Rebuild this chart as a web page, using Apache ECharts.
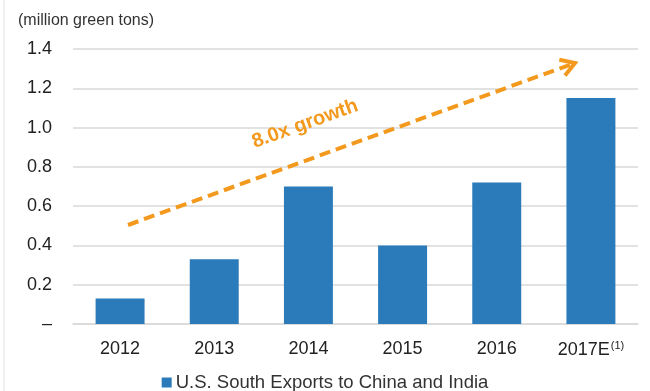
<!DOCTYPE html>
<html><head><meta charset="utf-8">
<script src="https://cdn.jsdelivr.net/npm/echarts@6/dist/echarts.min.js"></script>
<style>html,body{margin:0;padding:0;background:#fff}#c{width:650px;height:391px}</style>
</head><body><div id="c"></div>
<script>
const categories = ['2012','2013','2014','2015','2016','2017E'];
const exportsValues = [0.13, 0.33, 0.70, 0.40, 0.72, 1.15];
const yTicks = [0, 0.2, 0.4, 0.6, 0.8, 1.0, 1.2, 1.4];
const seriesName = 'U.S. South Exports to China and India';
const unitLabel = '(million green tons)';
const annotationText = '8.0x growth';

const chart = echarts.init(document.getElementById('c'));
const font = 'Liberation Sans, Arial, sans-serif';
chart.setOption({
  animation: false,
  textStyle: { fontFamily: font },
  grid: { left: 73, right: 12, top: 49, bottom: 67 },
  title: { text: unitLabel, left: 13, top: 8, textStyle: { fontSize: 16, fontWeight: 'normal', color: '#333', fontFamily: font } },
  legend: {
    top: 368, left: 'center', itemWidth: 10, itemHeight: 10, icon: 'rect', itemGap: 4,
    textStyle: { fontSize: 18.5, color: '#333', fontFamily: font, padding: [0,0,0,-1] },
    data: [seriesName]
  },
  xAxis: {
    type: 'category', data: categories,
    axisLine: { lineStyle: { color: '#d9d9d9', width: 1.5 } },
    axisTick: { show: false },
    axisLabel: {
      interval: 0, margin: 16, fontSize: 18, color: '#222', fontFamily: font,
      formatter: v => v === '2017E' ? '{a|2017E}{s|(1)}' : '{a|' + v + '}',
      rich: { a: { fontSize: 18, color: '#222', fontFamily: font }, s: { fontSize: 11, color: '#222', verticalAlign: 'top', padding: [0,0,9,1], fontFamily: font } }
    }
  },
  yAxis: {
    type: 'value', min: 0, max: 1.4, interval: 0.2,
    axisLine: { show: false }, axisTick: { show: false },
    splitLine: { lineStyle: { color: '#d9d9d9', width: 1.5 } },
    axisLabel: {
      margin: 21, fontSize: 18, color: '#222', fontFamily: font,
      formatter: v => { const t = yTicks.find(x => Math.abs(x - v) < 1e-6); return t === 0 ? '–' : (t !== undefined ? t.toFixed(1) : ''); }
    }
  },
  series: [{
    name: seriesName, type: 'bar', data: exportsValues, barWidth: '52%',
    itemStyle: { color: '#2B7BBA' }
  }]
});

// annotation arrow
const x1 = 128, y1 = 225, x2 = 575, y2 = 63;
const ang = Math.atan2(y2 - y1, x2 - x1);
const hl = 16, ha = 0.55;
chart.setOption({
  graphic: [
    { type: 'line', shape: { x1: 4, y1: 0, x2: 4, y2: 391 }, style: { stroke: '#ececec', lineWidth: 1.5 } },
    { type: 'line', shape: { x1, y1, x2: x2 - 4 * Math.cos(ang), y2: y2 - 4 * Math.sin(ang) },
      style: { stroke: '#F39A1E', lineWidth: 4, lineDash: [11, 6] }, z: 10 },
    { type: 'polyline', shape: { points: [
        [x2 - hl * Math.cos(ang - ha), y2 - hl * Math.sin(ang - ha)], [x2, y2],
        [x2 - hl * Math.cos(ang + ha), y2 - hl * Math.sin(ang + ha)] ] },
      style: { stroke: '#F39A1E', lineWidth: 4, fill: null, lineJoin: 'miter' }, z: 10 },
    { type: 'text', x: 305, y: 124, rotation: -ang,
      style: { text: annotationText, fill: '#F39A1E', font: 'bold 20px ' + font, align: 'center', verticalAlign: 'middle' }, z: 10 }
  ]
});
</script></body></html>
